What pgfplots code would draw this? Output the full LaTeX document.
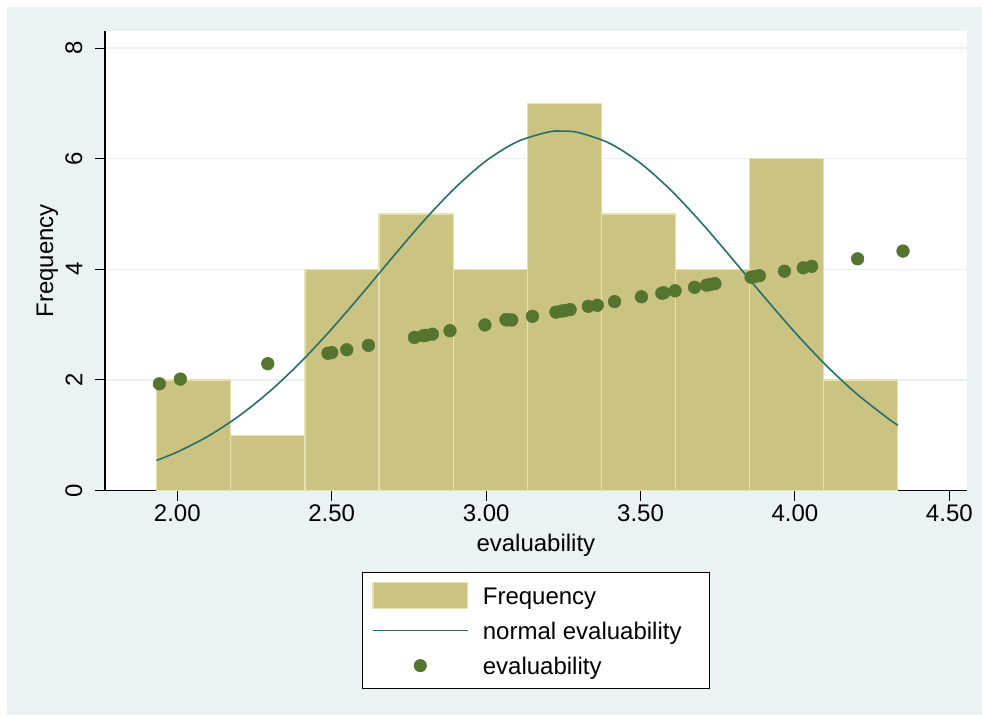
\documentclass[border=0pt]{standalone}
\usepackage{pgfplots}
\pgfplotsset{compat=1.18}
\usepackage{fontspec}
\setmainfont{Liberation Sans}
\definecolor{bgcol}{RGB}{234,242,243}
\definecolor{gridcol}{RGB}{232,240,243}
\definecolor{barcol}{RGB}{203,195,129}
\definecolor{edgecol}{RGB}{230,225,178}
\definecolor{curvecol}{RGB}{38,112,104}
\definecolor{dotcol}{RGB}{85,117,47}
\newcommand{\ffs}{\fontsize{18}{21.6}\selectfont}
\begin{document}
\begin{tikzpicture}
\fill[white] (0pt,0pt) rectangle (736.5pt,-536.25pt);
\fill[bgcol] (5.25pt,-5.25pt) rectangle (736.5pt,-536.25pt);
\begin{axis}[
  at={(78.75pt,-367.875pt)}, anchor=south west,
  scale only axis, width=646.3pt, height=344.6pt,
  xmin=1.7659, xmax=4.5563, ymin=0, ymax=8.309,
  axis x line*=bottom, axis y line*=left,
  axis line style={-, black, line width=1.1pt},
  axis background/.style={fill=white},
  tick align=outside,
  major tick length=7.5pt,
  tick style={black, line width=0.8pt},
  xtick={2,2.5,3,3.5,4,4.5},
  xticklabels={2.00,2.50,3.00,3.50,4.00,4.50},
  ytick={0,2,4,6,8},
  yticklabels={0,2,4,6,8},
  ymajorgrids, grid style={gridcol, line width=1pt},
  tick label style={font=\ffs},
  yticklabel shift=6pt,
  yticklabel style={rotate=90, anchor=south},
  label style={font=\ffs},
  xlabel={evaluability},
  ylabel={Frequency},
  xlabel style={at={(0.5,-0.1317)}, anchor=base},
  ylabel style={at={(-0.0603,0.5)}, anchor=base},
  legend cell align=left,
  legend style={at={(0.5,-0.178)}, anchor=north, draw=black, line width=0.75pt,
    fill=white, inner xsep=7.5pt, inner ysep=4pt, font=\ffs, row sep=0pt,
    nodes={inner sep=0pt, text height=17.5pt, text depth=4pt},
    /tikz/every odd column/.append style={column sep=10.8pt}},
]
% histogram bars (bin midpoints, counts)
\addplot[ybar, bar width=0.24, bar shift=0pt, fill=barcol, draw=edgecol, line width=0.9pt,
  legend image code/.code={
    \path[draw=none, fill=barcol] (0pt,-9.75pt) rectangle (71pt,9.75pt);
    \path[draw=edgecol, fill=none, line width=0.8pt] (0pt,-9.75pt) rectangle (71pt,9.75pt);
    \path[draw=none, fill=none] (0pt,-13.125pt) rectangle (71pt,13.125pt);}]
  coordinates {
  (2.0533,2) (2.2933,1) (2.5333,4) (2.7733,5) (3.0133,4)
  (3.2533,7) (3.4933,5) (3.7333,4) (3.9733,6) (4.2133,2)};
\addlegendentry{\makebox[162.5pt][l]{Frequency}}
% normal density curve
\addplot[curvecol, line width=1.2pt, smooth, no marks,
  legend image code/.code={
    \path[draw=curvecol, fill=none, line width=1.2pt] (0pt,0pt) -- (71pt,0pt);
    \path[draw=none, fill=none] (0pt,-13.125pt) rectangle (71pt,13.125pt);}]
  coordinates {
  (1.933,0.545) (2.0,0.697) (2.1,0.983) (2.2,1.349) (2.3,1.796)
  (2.4,2.324) (2.5,2.922) (2.6,3.570) (2.7,4.238) (2.8,4.888)
  (2.9,5.476) (3.0,5.962) (3.1,6.306) (3.2,6.481) (3.245,6.500)
  (3.3,6.472) (3.4,6.279) (3.5,5.919) (3.6,5.421) (3.7,4.824)
  (3.8,4.171) (3.9,3.504) (4.0,2.860) (4.1,2.268) (4.2,1.748)
  (4.3,1.309) (4.333,1.182)};
\addlegendentry{\makebox[162.5pt][l]{normal evaluability}}
% data points
\addplot[only marks, mark=*, mark size=4.75pt, color=dotcol, mark options={fill=dotcol, draw=dotcol},
  legend image code/.code={
    \path[draw=none, fill=dotcol] (35.5pt,0pt) circle (4.9pt);
    \path[draw=none, fill=none] (0pt,-13.125pt) rectangle (71pt,13.125pt);}]
  coordinates {
  (1.942,1.930) (2.010,2.015) (2.293,2.293) (2.488,2.482) (2.500,2.494)
  (2.549,2.545) (2.619,2.625) (2.768,2.768) (2.797,2.800) (2.805,2.806)
  (2.826,2.828) (2.883,2.890) (2.996,2.995) (3.064,3.090) (3.070,3.085)
  (3.083,3.083) (3.150,3.150) (3.226,3.226) (3.245,3.245) (3.255,3.255)
  (3.272,3.272) (3.331,3.331) (3.360,3.350) (3.416,3.416) (3.503,3.503)
  (3.569,3.569) (3.575,3.575) (3.612,3.612) (3.675,3.675) (3.714,3.714)
  (3.727,3.727) (3.741,3.741) (3.858,3.858) (3.870,3.870) (3.885,3.885)
  (3.966,3.966) (4.027,4.027) (4.054,4.054) (4.203,4.190) (4.350,4.330)};
\addlegendentry{\makebox[162.5pt][l]{evaluability}}
\end{axis}
\end{tikzpicture}
\end{document}
